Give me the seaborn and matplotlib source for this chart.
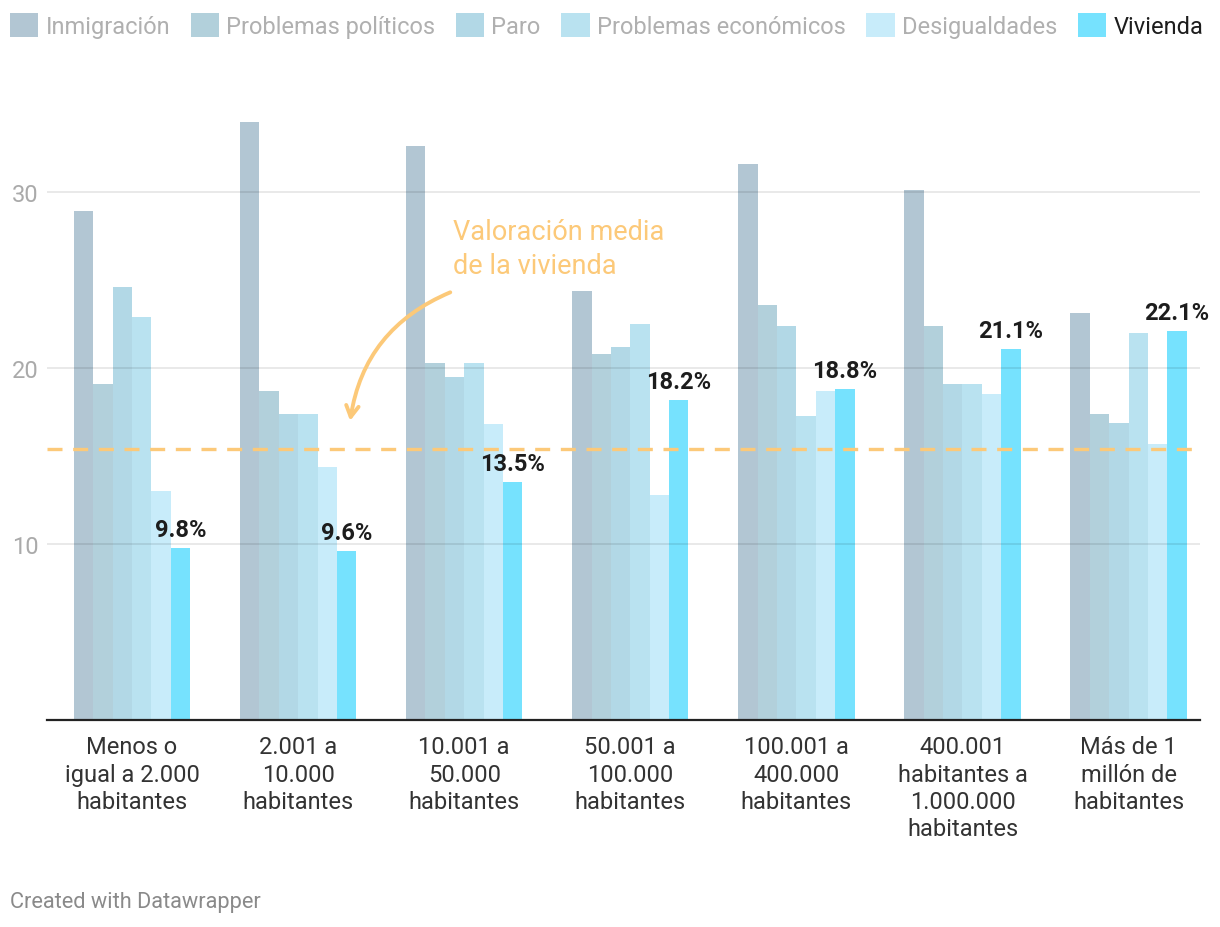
import matplotlib
matplotlib.use("Agg")
import matplotlib.pyplot as plt
import seaborn as sns
import pandas as pd
from matplotlib.patches import Patch

categories = ["Menos o\nigual a 2.000\nhabitantes", "2.001 a\n10.000\nhabitantes",
              "10.001 a\n50.000\nhabitantes", "50.001 a\n100.000\nhabitantes",
              "100.001 a\n400.000\nhabitantes", "400.001\nhabitantes a\n1.000.000\nhabitantes",
              "Más de 1\nmillón de\nhabitantes"]
series = ["Inmigración", "Problemas políticos", "Paro", "Problemas económicos",
          "Desigualdades", "Vivienda"]
inmigracion = [28.9, 34.0, 32.6, 24.4, 31.6, 30.1, 23.1]
problemas_politicos = [19.1, 18.7, 20.3, 20.8, 23.6, 22.4, 17.4]
paro = [24.6, 17.4, 19.5, 21.2, 22.4, 19.1, 16.9]
problemas_economicos = [22.9, 17.4, 20.3, 22.5, 17.3, 19.1, 22.0]
desigualdades = [13.0, 14.4, 16.8, 12.8, 18.7, 18.5, 15.7]
vivienda = [9.8, 9.6, 13.5, 18.2, 18.8, 21.1, 22.1]
media_vivienda = 15.4
yticks = [10, 20, 30]

colors = ["#b2c6d3", "#b2d0db", "#b2d8e6", "#b9e2f0", "#c8ecfa", "#76e2fe"]
orange = "#fcc979"

values = [inmigracion, problemas_politicos, paro, problemas_economicos, desigualdades, vivienda]
rows = []
for s, vals in zip(series, values):
    for c, v in zip(categories, vals):
        rows.append({"cat": c, "serie": s, "value": v})
df = pd.DataFrame(rows)

sns.set_style("white")
plt.rcParams["font.family"] = ["Roboto", "DejaVu Sans"]

fig = plt.figure(figsize=(12.2, 9.28), dpi=100)
ax = fig.add_axes([47/1220, 1-721/928, (1200-47)/1220, (721-80)/928])

sns.barplot(data=df, x="cat", y="value", hue="serie", order=categories, hue_order=series,
            palette=colors, width=0.7, saturation=1, ax=ax, legend=False, errorbar=None,
            linewidth=0, edgecolor="none")

ax.set_xlim(-0.512, 6.43)
ax.set_ylim(0, (721-80)/17.6)
ax.set_yticks(yticks)
ax.set_yticklabels([str(t) for t in yticks], color="#aaaaaa", fontsize=17)
ax.set_xticks(range(len(categories)))
ax.set_xticklabels(categories, fontsize=17, color="#333333", linespacing=1.24)
ax.tick_params(axis="both", length=0)
ax.tick_params(axis="x", pad=11)
ax.tick_params(axis="y", pad=6)
ax.set_xlabel("")
ax.set_ylabel("")
for sp in ["top", "right", "left"]:
    ax.spines[sp].set_visible(False)
ax.spines["bottom"].set_color("#222222")
ax.spines["bottom"].set_linewidth(1.6)
ax.spines["bottom"].set_zorder(6)
ax.yaxis.grid(True, color="black", alpha=0.1, lw=1.2, zorder=3)
ax.set_axisbelow(False)

ax.axhline(media_vivienda, color=orange, lw=2.4, dashes=(4.5, 3.2), zorder=5)

viv = ax.containers[5]
ax.bar_label(viv, labels=[f"{v:.1f}%" for v in vivienda], padding=5,
             fontsize=17, fontweight="bold", color="#1d1d1d", zorder=7)

ax.annotate("", xy=(1.313, 17.0), xytext=(1.916, 24.3),
            arrowprops=dict(arrowstyle="->,head_length=0.8,head_width=0.45", color=orange,
                            lw=2.8, connectionstyle="arc3,rad=0.28", shrinkA=0, shrinkB=0),
            zorder=6)
ax.text(1.934, 28.5, "Valoración media\nde la vivienda", color=orange, fontsize=19.5,
        va="top", ha="left", linespacing=1.3, zorder=6)

handles = [Patch(facecolor=c, edgecolor="none") for c in colors]
leg = fig.legend(handles, series, loc="upper left", bbox_to_anchor=(10/1220, 1-14/928),
                 ncol=6, frameon=False, fontsize=17, borderpad=0, borderaxespad=0,
                 handlelength=1.2, handleheight=1.2, handletextpad=0.3, columnspacing=0.88)
for t, s in zip(leg.get_texts(), series):
    t.set_color("#1d1d1d" if s == "Vivienda" else "#b0b0b0")

fig.text(10/1220, 1-903/928, "Created with Datawrapper", color="#8a8a8a", fontsize=15.7,
         va="center", ha="left")

fig.savefig("out.png", dpi=100, facecolor="white")
